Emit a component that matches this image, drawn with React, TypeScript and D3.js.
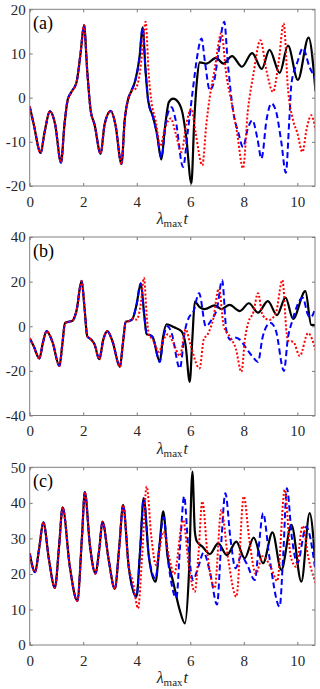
import React, { useEffect, useRef } from "react";
import * as d3 from "d3";

type P = [number, number];

const xTicks = [0, 2, 4, 6, 8, 10];
const yTicksA = [-20, -10, 0, 10, 20];
const yTicksB = [-40, -20, 0, 20, 40];
const yTicksC = [0, 10, 20, 30, 40, 50];
const panelLabels = ["(a)", "(b)", "(c)"];

// (a) -- all three runs sit on top of each other at first
const commonA: P[] = [
  [0, -2], [0.15, -6], [0.41, -12.5], [0.55, -8], [0.76, -3.1], [0.95, -6],
  [1.17, -14.7], [1.3, -6], [1.42, -0.5], [1.55, 1.2], [1.75, 3.5], [1.9, 10],
  [2.03, 16.4], [2.15, 6], [2.28, -3], [2.42, -6], [2.65, -12.7], [2.8, -6],
  [3.03, -3], [3.2, -6], [3.43, -15], [3.55, -5], [3.68, -0.3], [3.8, 1.5],
];
const blackA: P[] = [
  [3.95, 4], [4.1, 9], [4.22, 15.9], [4.33, 6], [4.43, -0.8], [4.61, -4.4],
  [4.75, -8], [4.92, -14], [5.05, -7], [5.2, -1], [5.36, -0.2], [5.55, -1],
  [5.71, -3.5], [5.85, -9], [6.04, -19.4], [6.15, -5], [6.25, 4], [6.35, 8],
  [6.6, 7.7], [6.96, 9], [7.24, 7.7], [7.56, 9.4], [7.93, 7], [8.31, 10.1],
  [8.67, 6.5], [8.96, 10.8], [9.34, 5.6], [9.65, 11.8], [10.02, 4], [10.42, 13.6],
  [10.68, 1.4],
];
const blueA: P[] = [
  [3.95, 4], [4.1, 9], [4.22, 15.9], [4.33, 6], [4.43, -0.8], [4.61, -4.5],
  [4.75, -8], [4.92, -13.5], [5.1, -5], [5.3, -2.2], [5.45, -5], [5.73, -15.7],
  [5.9, -8], [6.1, 2], [6.25, 9], [6.42, 13.4], [6.55, 8], [6.73, 1.7], [6.9, 4],
  [7.05, 10], [7.27, 17.2], [7.4, 8], [7.6, -3], [7.8, -8], [7.97, -11.2],
  [8.15, -7], [8.32, -5.1], [8.5, -9], [8.66, -13.8], [8.85, -5], [9.03, -1.3],
  [9.2, -3], [9.4, -10], [9.57, -17], [9.7, -5], [9.78, 3.2], [10.0, 8],
  [10.21, 11.2], [10.45, 7], [10.68, 4.4],
];
const redA: P[] = [
  [3.95, 2], [4.1, 5], [4.2, 10], [4.33, 17.2], [4.45, 5], [4.55, -1], [4.7, -5],
  [4.88, -11], [5.05, -7], [5.27, -4.7], [5.45, -8], [5.67, -12.3], [5.85, -6],
  [6.04, -2.5], [6.2, -8], [6.45, -15.3], [6.6, -6], [6.73, 0.2], [6.9, 6],
  [7.16, 14.6], [7.35, 5], [7.54, -1], [7.75, -8], [7.97, -16], [8.15, -3],
  [8.35, 5], [8.62, 13], [8.85, 6], [9.09, 1.3], [9.3, 8], [9.49, 16.8],
  [9.65, 2], [9.84, -5.1], [10.0, -8], [10.19, -12.3], [10.35, -7], [10.52, -4],
  [10.68, -7.4],
];

// (b)
const commonB: P[] = [
  [0, -5.4], [0.15, -9], [0.36, -14.4], [0.5, -7], [0.63, -2.2], [0.85, -7],
  [1.11, -17.8], [1.22, -8], [1.32, 1.5], [1.45, 2], [1.6, 2.5], [1.75, 7],
  [1.94, 20.3], [2.05, 8], [2.15, -4.5], [2.3, -6], [2.42, -8], [2.6, -14.8],
  [2.75, -6], [2.9, -2.2], [3.1, -7], [3.37, -18.2], [3.48, -8], [3.59, 2],
  [3.75, 2.5], [3.85, 3.5],
];
const blackB: P[] = [
  [3.99, 9.5], [4.15, 19.2], [4.28, 5], [4.37, -3.6], [4.5, -4], [4.6, -5],
  [4.86, -15.9], [4.98, -5], [5.11, 0.9], [5.4, -0.5], [5.67, -2.2], [5.82, -8],
  [5.98, -24.9], [6.08, -5], [6.17, 11], [6.35, 8.6], [6.54, 7.7], [6.91, 9.4],
  [7.16, 7.7], [7.47, 9.6], [7.85, 6.8], [8.19, 10.3], [8.53, 6.1], [8.9, 11.3],
  [9.24, 5], [9.56, 12.8], [9.84, 3.3], [10.3, 15.7], [10.52, 0.6], [10.68, 0.5],
];
const blueB: P[] = [
  [3.99, 9.5], [4.15, 19.2], [4.28, 5], [4.37, -3.6], [4.5, -4], [4.6, -5],
  [4.86, -16], [5.0, -5], [5.15, 0], [5.3, -3], [5.61, -18.9], [5.8, -2],
  [5.95, 4], [6.1, 6], [6.33, 14.8], [6.58, 0], [6.8, 3], [7.0, 8], [7.19, 20.7],
  [7.35, -2], [7.5, -6], [7.65, -5], [7.85, -6], [8.1, -10], [8.35, -14],
  [8.53, -16], [8.7, -5], [8.85, 0], [9.0, 1.5], [9.2, -2], [9.5, -20],
  [9.65, -5], [9.8, 2], [10.2, 12.8], [10.4, 5], [10.5, 4], [10.68, 8.6],
];
const redB: P[] = [
  [4.0, 3], [4.15, 10], [4.27, 21.7], [4.37, 5], [4.45, -3.6], [4.6, -6],
  [4.83, -11.5], [5.0, -6], [5.17, -3.6], [5.35, -7], [5.61, -13.3],
  [5.83, -1.4], [6.0, -8], [6.35, -18.9], [6.5, -6], [6.65, -3.6], [6.85, 3],
  [7.07, 17], [7.25, 0], [7.5, -5], [7.7, -10], [7.91, -20.4], [8.05, -5],
  [8.18, 2.1], [8.35, 6], [8.53, 14.8], [8.7, 5], [8.95, 2.8], [9.2, 6],
  [9.44, 20.7], [9.6, -3], [9.65, -6.5], [9.85, -7], [10.09, -13.3],
  [10.4, -3.1], [10.68, -10.6],
];

// (c)
const commonC: P[] = [
  [0, 25.8], [0.2, 20.5], [0.35, 27], [0.51, 34.5], [0.72, 24], [0.94, 16.1],
  [1.1, 28], [1.23, 38.7], [1.5, 22], [1.78, 12.4], [1.95, 30], [2.06, 43],
  [2.25, 28], [2.46, 20.1], [2.6, 27], [2.72, 34.7], [2.95, 24], [3.18, 15.8],
  [3.35, 28], [3.49, 39.4], [3.7, 22],
];
const blackC: P[] = [
  [3.99, 13.6], [4.12, 26], [4.26, 41.3], [4.45, 25], [4.7, 17.8], [4.85, 28],
  [4.99, 37.6], [5.15, 25], [5.36, 17.8], [5.6, 10], [5.8, 6.1], [5.95, 20],
  [6.08, 48.8], [6.17, 32], [6.25, 29.1], [6.45, 27.7], [6.73, 25.6],
  [7.04, 28.6], [7.37, 25.3], [7.72, 29.1], [8.03, 24.4], [8.37, 30.2],
  [8.72, 23], [9.07, 31.7], [9.4, 21.1], [9.78, 33.8], [10.15, 17.8],
  [10.46, 37.1], [10.68, 22.1],
];
const blueC: P[] = [
  [3.99, 13.6], [4.12, 26], [4.26, 41.3], [4.45, 25], [4.7, 18.7], [4.85, 28],
  [5.0, 36], [5.2, 22], [5.48, 13.2], [5.62, 28], [5.77, 41.8], [5.92, 28],
  [6.1, 18.3], [6.3, 22], [6.5, 26], [6.75, 20], [7.0, 11.4], [7.15, 28],
  [7.31, 42.7], [7.5, 30], [7.69, 21.6], [7.9, 25], [8.1, 23], [8.41, 18.3],
  [8.55, 27], [8.72, 37.1], [8.95, 25], [9.34, 10.8], [9.47, 25], [9.61, 44.1],
  [9.8, 30], [10.0, 23], [10.33, 33.3], [10.68, 20.7],
];
const redC: P[] = [
  [3.85, 18], [4.05, 10.3], [4.2, 25], [4.37, 44.6], [4.55, 30], [4.72, 22.5],
  [5.0, 31.9], [5.2, 25], [5.4, 20], [5.73, 35.2], [5.95, 22], [6.17, 15],
  [6.3, 25], [6.45, 40.4], [6.65, 25], [6.91, 16], [7.16, 38], [7.4, 25],
  [7.72, 13.6], [8.0, 41.8], [8.2, 30], [8.45, 20], [8.7, 25], [9.0, 22],
  [9.25, 18], [9.53, 43.7], [9.75, 25], [9.95, 22], [10.2, 33.5], [10.4, 25],
  [10.68, 17.5],
];

const panels = [
  { label: panelLabels[0], dom: [-20, 20], ticks: yTicksA, top: 9.3, bottom: 186,
    black: commonA.concat(blackA), blue: commonA.concat(blueA), red: commonA.concat(redA) },
  { label: panelLabels[1], dom: [-40, 40], ticks: yTicksB, top: 237, bottom: 415.5,
    black: commonB.concat(blackB), blue: commonB.concat(blueB), red: commonB.concat(redB) },
  { label: panelLabels[2], dom: [0, 50], ticks: yTicksC, top: 467.3, bottom: 645,
    black: commonC.concat(blackC), blue: commonC.concat(blueC), red: commonC.concat(redC) },
];

const FONT = "Liberation Serif, DejaVu Serif, serif";

export default function App() {
  const svgRef = useRef<SVGSVGElement>(null);

  useEffect(() => {
    const svg = d3.select(svgRef.current);
    svg.selectAll("*").remove();
    const left = 29.7, right = 315;
    const x = d3.scaleLinear().domain([0, 10.66]).range([left, right]);

    panels.forEach((p, i) => {
      const y = d3.scaleLinear().domain(p.dom).range([p.bottom, p.top]);
      const g = svg.append("g");

      g.append("clipPath").attr("id", "clip" + i)
        .append("rect").attr("x", left).attr("y", p.top)
        .attr("width", right - left).attr("height", p.bottom - p.top);

      const line = d3.line<P>().x(d => x(d[0])).y(d => y(d[1])).curve(d3.curveMonotoneX);
      const lines = g.append("g").attr("clip-path", `url(#clip${i})`);
      lines.append("path").attr("d", line(p.black)).attr("fill", "none")
        .attr("stroke", "#000").attr("stroke-width", 2.2);
      lines.append("path").attr("d", line(p.blue)).attr("fill", "none")
        .attr("stroke", "#0000ff").attr("stroke-width", 2).attr("stroke-dasharray", "6,3.5");
      lines.append("path").attr("d", line(p.red)).attr("fill", "none")
        .attr("stroke", "#ff0000").attr("stroke-width", 2).attr("stroke-dasharray", "2,2");

      const fmt = (d: d3.NumberValue) => String(d);
      const noLab = () => "";
      const style = (a: d3.Selection<SVGGElement, unknown, null, undefined>) => {
        a.select(".domain").remove();
        a.selectAll("line").attr("stroke", "#777");
        a.attr("font-family", FONT).attr("font-size", 15);
        a.selectAll("text").attr("fill", "#262626");
      };
      g.append("g").attr("transform", `translate(0,${p.bottom})`)
        .call(d3.axisBottom(x).tickValues(xTicks).tickSize(-3).tickPadding(10).tickFormat(fmt))
        .call(style);
      g.append("g").attr("transform", `translate(0,${p.top})`)
        .call(d3.axisTop(x).tickValues(xTicks).tickSize(-3).tickFormat(noLab))
        .call(style);
      g.append("g").attr("transform", `translate(${left},0)`)
        .call(d3.axisLeft(y).tickValues(p.ticks).tickSize(-3).tickPadding(4).tickFormat(fmt))
        .call(style);
      g.append("g").attr("transform", `translate(${right},0)`)
        .call(d3.axisRight(y).tickValues(p.ticks).tickSize(-3).tickFormat(noLab))
        .call(style);

      g.append("rect").attr("x", left).attr("y", p.top)
        .attr("width", right - left).attr("height", p.bottom - p.top)
        .attr("fill", "none").attr("stroke", "#808080").attr("stroke-width", 1);

      g.append("text").attr("x", 33).attr("y", p.top + 20)
        .attr("font-family", FONT).attr("font-size", 18).attr("fill", "#000")
        .text(p.label);

      const xl = g.append("text").attr("x", (left + right) / 2).attr("y", p.bottom + 38)
        .attr("text-anchor", "middle").attr("font-family", FONT)
        .attr("font-size", 16).attr("fill", "#262626");
      xl.append("tspan").attr("font-style", "italic").text("λ");
      xl.append("tspan").attr("font-size", 11).attr("dy", 3).text("max");
      xl.append("tspan").attr("font-style", "italic").attr("dy", -3).attr("dx", 1).text("t");
    });
  }, []);

  return (
    <svg ref={svgRef} width={320} height={689}
      style={{ position: "absolute", left: 0, top: 0, background: "#fff" }} />
  );
}
